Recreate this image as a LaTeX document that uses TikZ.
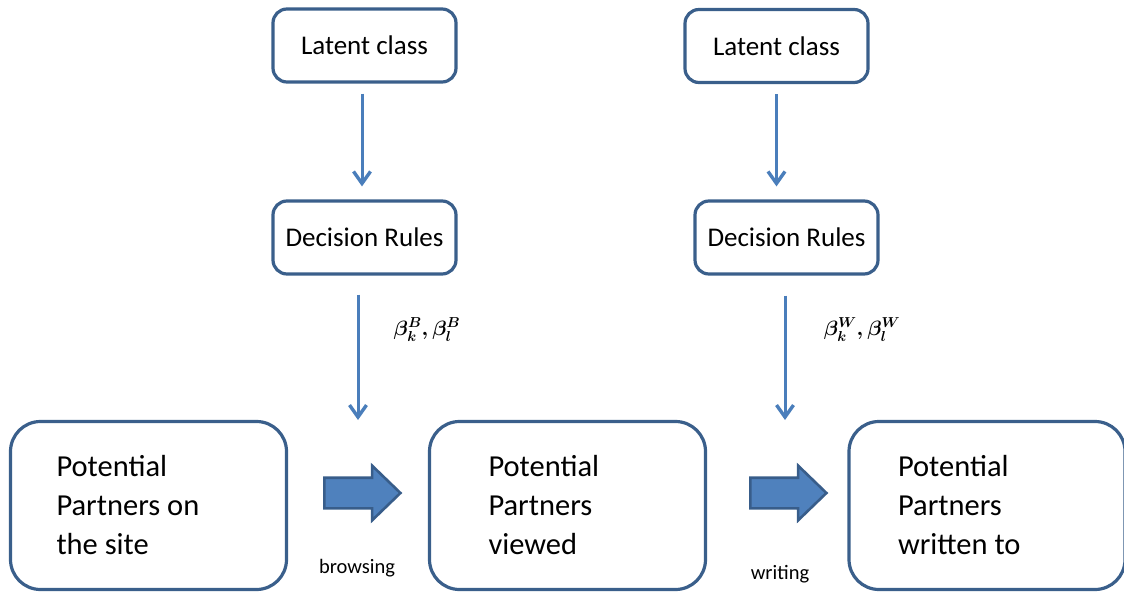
\documentclass[tikz,border=0pt]{standalone}
\usepackage{amsmath}
\usepackage{fontspec}
\setmainfont{Carlito}
\usetikzlibrary{arrows.meta,shapes.arrows}

\definecolor{boxline}{RGB}{58,95,139}
\definecolor{thinarrow}{RGB}{74,126,187}
\definecolor{blockfill}{RGB}{79,129,189}
\definecolor{blockline}{RGB}{56,93,138}

\tikzset{
  smallbox/.style={rectangle,rounded corners=14pt,draw=boxline,line width=3.2pt,
    minimum width=183pt,minimum height=73pt,inner sep=0pt,
    font=\fontsize{27}{32}\selectfont},
  bigbox/.style={rectangle,rounded corners=30pt,draw=boxline,line width=3.2pt,
    minimum width=276pt,minimum height=168pt,inner ysep=0pt,align=flush left,
    font=\fontsize{30.5}{39}\selectfont},
  flow/.style={draw=thinarrow,line width=3pt,-{Straight Barb[length=12pt,width=17pt,line width=3.4pt]}},
  blockarrow/.style={single arrow,fill=blockfill,draw=blockline,line width=2.6pt,
    minimum height=76pt,inner sep=14pt,single arrow head extend=12pt,
    single arrow tip angle=88},
  caption/.style={font=\fontsize{20.5}{24}\selectfont}
}

\begin{document}
\begin{tikzpicture}[x=1pt,y=-1pt]
\useasboundingbox (0,0) rectangle (1124,596);

% top row of small boxes
\node[smallbox] (l1) at (364.5,45.5) {Latent class};
\node[smallbox] (d1) at (364.5,237.5) {Decision Rules};
\node[smallbox] (l2) at (776.5,46) {Latent class};
\node[smallbox] (d2) at (786.5,237.5) {Decision Rules};

% the three groups of partners
\node[bigbox,inner xsep=46pt,text width=184pt] (s) at (148.5,505.5) {Potential\\Partners on\\the site};
\node[bigbox,inner xsep=59pt,text width=158pt] (v) at (567.5,505.5) {Potential\\Partners\\viewed};
\node[bigbox,inner xsep=46pt,text width=178pt] (w) at (987,505.5) {Potential\\Partners\\written to};

% thin arrows
\coordinate (p1) at (358,420);
\coordinate (p2) at (785,420);
\draw[flow,shorten <=10pt,shorten >=13pt] (l1.south -| 362,0) -- (d1.north -| 362,0);
\draw[flow,shorten <=19pt] (d1.south -| p1) -- (p1);
\draw[flow,shorten <=10pt,shorten >=13pt] (l2.south) -- (l2.south |- d2.north);
\draw[flow,shorten <=20pt] (d2.south -| p2) -- (p2);

\node (b1) at (427,330) {\fontsize{21}{25}\selectfont$\boldsymbol{\beta^B_k,\beta^B_l}$};
\node (b2) at (862,330) {\fontsize{21}{25}\selectfont$\boldsymbol{\beta^W_k,\beta^W_l}$};

% block arrows between the groups
\node[blockarrow] (a1) at (354.5,493) {};
\node[blockarrow] (a2) at (780.5,493) {};
\node[caption] (t1) at (357,568) {browsing};
\node[caption] (t2) at (780,574) {writing};
\end{tikzpicture}
\end{document}
